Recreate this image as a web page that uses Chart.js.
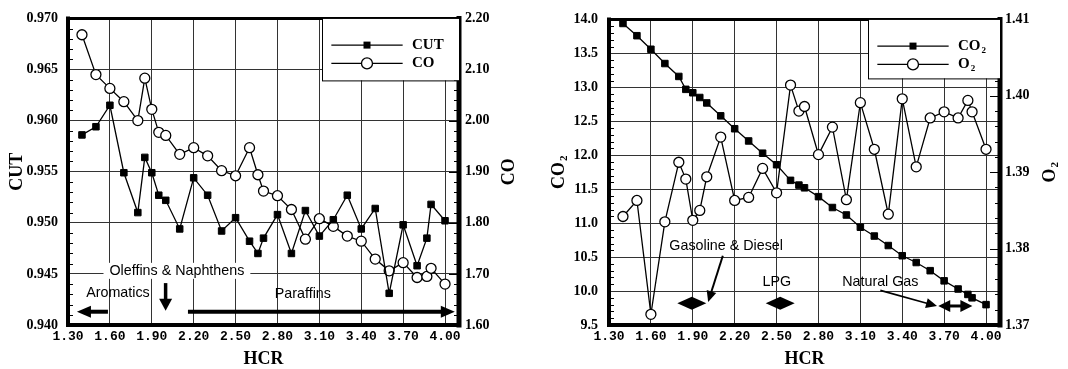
<!DOCTYPE html>
<html><head><meta charset="utf-8">
<script src="https://cdn.jsdelivr.net/npm/chart.js@4.4.1/dist/chart.umd.min.js"></script>
<style>
html,body{margin:0;padding:0;background:#fff;width:1068px;height:369px;overflow:hidden}
.wrap{position:absolute;top:0;width:534px;height:369px}
#w1{left:0}#w2{left:534px}
</style></head><body>
<div class="wrap" id="w1"><canvas id="c1"></canvas></div>
<div class="wrap" id="w2"><canvas id="c2"></canvas></div>
<script>
// ---- data ----
const hcr = [1.40,1.50,1.60,1.70,1.80,1.85,1.90,1.95,2.00,2.10,2.20,2.30,2.40,2.50,2.60,2.66,2.70,2.80,2.90,3.00,3.10,3.20,3.30,3.40,3.50,3.60,3.70,3.80,3.87,3.90,4.00];
const cut = [0.9586,0.9594,0.9615,0.9549,0.9510,0.9564,0.9549,0.9527,0.9522,0.9494,0.9544,0.9527,0.9492,0.9505,0.9482,0.9470,0.9485,0.9508,0.9470,0.9512,0.9487,0.9503,0.9527,0.9494,0.9514,0.9431,0.9498,0.9458,0.9485,0.9518,0.9502];
const co = [2.168,2.090,2.063,2.037,2.000,2.083,2.022,1.977,1.971,1.934,1.947,1.931,1.902,1.892,1.947,1.894,1.862,1.853,1.826,1.768,1.808,1.793,1.774,1.764,1.729,1.706,1.722,1.693,1.695,1.711,1.680];
const co2 = [13.94,13.76,13.56,13.35,13.16,12.97,12.92,12.85,12.77,12.58,12.39,12.21,12.03,11.86,11.63,11.56,11.52,11.39,11.23,11.12,10.94,10.81,10.67,10.52,10.42,10.30,10.15,10.03,9.95,9.90,9.80];
const o2 = [1.3842,1.3863,1.3714,1.3835,1.3913,1.3891,1.3837,1.3850,1.3894,1.3946,1.3863,1.3867,1.3905,1.3873,1.4014,1.3980,1.3986,1.3923,1.3959,1.3864,1.3991,1.3930,1.3845,1.3996,1.3907,1.3971,1.3979,1.3971,1.3994,1.3979,1.3930];
const hcrTicks = [1.30,1.60,1.90,2.20,2.50,2.80,3.10,3.40,3.70,4.00];
const cutTicks = [0.940,0.945,0.950,0.955,0.960,0.965,0.970];
const coTicks = [1.60,1.70,1.80,1.90,2.00,2.10,2.20];
const co2Ticks = [9.5,10.0,10.5,11.0,11.5,12.0,12.5,13.0,13.5,14.0];
const o2Ticks = [1.37,1.38,1.39,1.40,1.41];

const SERIF = "'Liberation Serif','Times New Roman',serif";
const SANS = "'Liberation Sans',Arial,sans-serif";
const MONO = "'Liberation Mono','Courier New',monospace";

function subText(ctx, text, x, y, size, weight) {
  const parts = text.split('\u2082');
  ctx.font = weight + ' ' + size + 'px ' + SERIF;
  const w1 = ctx.measureText(parts[0]).width;
  let w2 = 0; const ss = Math.round(size * 0.6);
  if (parts.length > 1) { ctx.font = weight + ' ' + ss + 'px ' + SERIF; w2 = ctx.measureText('2').width + 1; }
  return {w: w1 + w2, draw(left) {
    ctx.textBaseline = 'middle'; ctx.textAlign = 'left'; ctx.fillStyle = '#000';
    ctx.font = weight + ' ' + size + 'px ' + SERIF; ctx.fillText(parts[0], left, y);
    if (parts.length > 1) { ctx.font = weight + ' ' + ss + 'px ' + SERIF; ctx.fillText('2', left + w1 + 1, y + size * 0.28); }
  }};
}
function head(ctx, x, y, a, hl, hw) {
  const c = Math.cos(a), s = Math.sin(a);
  ctx.beginPath(); ctx.moveTo(x, y);
  ctx.lineTo(x - c*hl - s*hw, y - s*hl + c*hw);
  ctx.lineTo(x - c*hl + s*hw, y - s*hl - c*hw);
  ctx.closePath(); ctx.fill();
}
function minor(ctx, s, ticks, edge, dir, len) {
  ctx.beginPath();
  for (let i = 0; i < ticks.length - 1; i++) {
    for (let k = 1; k < 5; k++) {
      const v = ticks[i] + (ticks[i+1] - ticks[i]) * k / 5;
      const y = Math.round(s.getPixelForValue(v)) + 0.5;
      ctx.moveTo(edge, y); ctx.lineTo(edge + dir*len, y);
    }
  }
  ctx.stroke();
}

const decor = {
  id: 'decor',
  afterDraw(chart, args, o) {
    const ctx = chart.ctx, ca = chart.chartArea;
    const xs = chart.scales.x, yl = chart.scales.yL, yr = chart.scales.yR;
    ctx.save();
    ctx.strokeStyle = '#000'; ctx.fillStyle = '#000';
    // annotations
    const X = v => xs.getPixelForValue(v), Y = v => yl.getPixelForValue(v);
    (o.annos || []).forEach(a => {
      if (a.type === 'text') {
        ctx.font = '14.3px ' + SANS; ctx.textAlign = 'center'; ctx.textBaseline = 'middle';
        const px = X(a.x), py = Y(a.y);
        if (a.bg) { const w = ctx.measureText(a.text).width; ctx.fillStyle = '#fff'; ctx.fillRect(px - w/2 - a.bg, py - 8, w + 2*a.bg, 16); }
        ctx.fillStyle = '#000'; ctx.fillText(a.text, px, py);
      } else if (a.type === 'arrow') {
        const x1 = X(a.x1), y1 = Y(a.y1), x2 = X(a.x2), y2 = Y(a.y2);
        const ang = Math.atan2(y2 - y1, x2 - x1), c = Math.cos(ang), s = Math.sin(ang);
        ctx.lineWidth = a.lw;
        const sx = a.both ? x1 + c*a.hl*0.8 : x1, sy = a.both ? y1 + s*a.hl*0.8 : y1;
        ctx.beginPath(); ctx.moveTo(sx, sy); ctx.lineTo(x2 - c*a.hl*0.8, y2 - s*a.hl*0.8); ctx.stroke();
        head(ctx, x2, y2, ang, a.hl, a.hw);
        if (a.both) head(ctx, x1, y1, ang + Math.PI, a.hl, a.hw);
      } else if (a.type === 'diamond') {
        const px = X(a.x), py = Y(a.y);
        ctx.beginPath(); ctx.moveTo(px - a.hw, py); ctx.lineTo(px, py - a.hh); ctx.lineTo(px + a.hw, py); ctx.lineTo(px, py + a.hh); ctx.closePath(); ctx.fill();
      }
    });
    // minor ticks
    ctx.lineWidth = 1;
    minor(ctx, yl, o.lTicks, ca.left, 1, 5);
    minor(ctx, yr, o.rTicks, ca.right, -1, 5);
    ctx.beginPath();
    o.rTicks.forEach(v => { const y = Math.round(yr.getPixelForValue(v)) + 0.5; ctx.moveTo(ca.right, y); ctx.lineTo(ca.right - 10, y); });
    ctx.stroke();
    // frame
    ctx.lineCap = 'square';
    ctx.lineWidth = 3; ctx.beginPath(); ctx.moveTo(ca.left, ca.top); ctx.lineTo(ca.right, ca.top); ctx.stroke();
    ctx.lineWidth = 4; ctx.beginPath(); ctx.moveTo(ca.left, ca.top); ctx.lineTo(ca.left, ca.bottom); ctx.lineTo(ca.right, ca.bottom); ctx.stroke();
    ctx.lineWidth = 5; ctx.beginPath(); ctx.moveTo(ca.right, ca.top); ctx.lineTo(ca.right, ca.bottom); ctx.stroke();
    // legend
    const L = o.legend, bl = ca.right - L.w, bt = ca.top, bb = ca.top + L.h;
    ctx.fillStyle = '#fff'; ctx.fillRect(bl, bt, ca.right - bl, bb - bt);
    ctx.lineWidth = 1; ctx.strokeStyle = '#000';
    ctx.strokeRect(Math.round(bl) + 0.5, bt, ca.right - bl, Math.round(bb - bt) + 0.5);
    chart.data.datasets.forEach((ds, i) => {
      const y = bt + L.rows[i];
      ctx.lineWidth = 1.3; ctx.beginPath(); ctx.moveTo(bl + 10, y); ctx.lineTo(bl + 80, y); ctx.stroke();
      const mx = bl + 45;
      if (ds.pointStyle === 'rect') { ctx.fillStyle = '#000'; ctx.fillRect(mx - 3.5, y - 3.5, 7, 7); }
      else { ctx.fillStyle = '#fff'; ctx.beginPath(); ctx.arc(mx, y, 5.5, 0, Math.PI*2); ctx.fill(); ctx.stroke(); }
      const t = subText(ctx, ds.label, 0, y, 15, 'bold'); t.draw(bl + 90);
    });
    // axis titles
    (o.titles || []).forEach(tt => {
      const cx = tt.x === 'mid' ? (ca.left + ca.right)/2 : tt.x;
      const cy = tt.y === 'mid' ? (ca.top + ca.bottom)/2 : tt.y;
      ctx.save(); ctx.translate(cx, cy); if (tt.rot) ctx.rotate(-Math.PI/2);
      const t = subText(ctx, tt.text, 0, 0, 18, 'bold'); t.draw(-t.w/2);
      ctx.restore();
    });
    ctx.restore();
  }
};

function build(id, d1, d2, lT, rT, lFmt, rFmt, lW, rW, lPad, rPad, decorOpts) {
  const tf = {family: SERIF, size: 14, weight: 'bold'};
  const grid = {color: '#333', lineWidth: 1, drawTicks: false};
  return new Chart(document.getElementById(id), {
    type: 'scatter',
    data: {datasets: [d1, d2]},
    options: {
      responsive: true, maintainAspectRatio: false, animation: false, events: [],
      layout: {padding: {top: 15, left: 0, right: 0, bottom: 0}, autoPadding: false},
      plugins: {legend: {display: false}, tooltip: {enabled: false}, decor: decorOpts},
      scales: {
        x: {type: 'linear', min: 1.3, max: 4.1,
          afterBuildTicks: s => { s.ticks = hcrTicks.map(v => ({value: v})); },
          afterFit: s => { s.height = 44; },
          ticks: {callback: v => v.toFixed(2), font: {family: MONO, size: 13, weight: 'bold'}, color: '#000', padding: 4, maxRotation: 0, autoSkip: false},
          grid: grid, border: {display: false}},
        yL: {type: 'linear', position: 'left', min: lT[0], max: lT[lT.length-1],
          afterBuildTicks: s => { s.ticks = lT.map(v => ({value: v})); },
          afterFit: s => { s.width = lW; },
          ticks: {callback: lFmt, font: tf, color: '#000', padding: lPad},
          grid: grid, border: {display: false}},
        yR: {type: 'linear', position: 'right', min: rT[0], max: rT[rT.length-1],
          afterBuildTicks: s => { s.ticks = rT.map(v => ({value: v})); },
          afterFit: s => { s.width = rW; },
          ticks: {callback: rFmt, font: tf, color: '#000', padding: rPad},
          grid: {drawOnChartArea: false, drawTicks: false}, border: {display: false}}
      }
    },
    plugins: [decor]
  });
}
function sq(label, vals, axis) {
  return {label, data: hcr.map((x, i) => ({x, y: vals[i]})), yAxisID: axis, showLine: true,
    borderColor: '#000', borderWidth: 1.3, pointStyle: 'rect', pointRadius: 4.6,
    pointBackgroundColor: '#000', pointBorderColor: '#000', pointBorderWidth: 1};
}
function ci(label, vals, axis) {
  return {label, data: hcr.map((x, i) => ({x, y: vals[i]})), yAxisID: axis, showLine: true,
    borderColor: '#000', borderWidth: 1.3, pointStyle: 'circle', pointRadius: 5,
    pointBackgroundColor: '#fff', pointBorderColor: '#000', pointBorderWidth: 1.3};
}

build('c1', sq('CUT', cut, 'yL'), ci('CO', co, 'yR'), cutTicks, coTicks,
  v => v.toFixed(3), v => v.toFixed(2), 68, 75, 10, 6, {
    lTicks: cutTicks, rTicks: coTicks,
    legend: {w: 137, h: 62, rows: [26.7, 45]},
    titles: [{text: 'CUT', x: 17.5, y: 'mid', rot: true}, {text: 'CO', x: 509.5, y: 'mid', rot: true}, {text: 'HCR', x: 'mid', y: 359}],
    annos: [
      {type: 'text', text: 'Oleffins & Naphthens', x: 2.08, y: 0.9453, bg: 6},
      {type: 'text', text: 'Aromatics', x: 1.658, y: 0.9431},
      {type: 'text', text: 'Paraffins', x: 2.982, y: 0.9430},
      {type: 'arrow', x1: 1.586, y1: 0.9413, x2: 1.364, y2: 0.9413, lw: 4, hl: 14, hw: 6},
      {type: 'arrow', x1: 1.999, y1: 0.9441, x2: 1.999, y2: 0.9414, lw: 3.5, hl: 12, hw: 6.5},
      {type: 'arrow', x1: 2.159, y1: 0.9413, x2: 4.07, y2: 0.9413, lw: 4, hl: 14, hw: 6}
    ]
  });
build('c2', sq('CO\u2082', co2, 'yL'), ci('O\u2082', o2, 'yR'), co2Ticks, o2Ticks,
  v => v.toFixed(1), v => v.toFixed(2), 75, 68, 11, 5, {
    lTicks: co2Ticks, rTicks: o2Ticks,
    legend: {w: 132, h: 59, rows: [26.7, 45]},
    titles: [{text: 'CO\u2082', x: 25, y: 'mid', rot: true}, {text: 'O\u2082', x: 516, y: 'mid', rot: true}, {text: 'HCR', x: 'mid', y: 359}],
    annos: [
      {type: 'text', text: 'Gasoline & Diesel', x: 2.139, y: 10.66},
      {type: 'text', text: 'LPG', x: 2.502, y: 10.13},
      {type: 'text', text: 'Natural Gas', x: 3.243, y: 10.13},
      {type: 'arrow', x1: 2.115, y1: 10.52, x2: 2.010, y2: 9.84, lw: 2, hl: 11, hw: 5},
      {type: 'arrow', x1: 3.243, y1: 10.01, x2: 3.649, y2: 9.78, lw: 1.6, hl: 11, hw: 5},
      {type: 'arrow', x1: 3.658, y1: 9.78, x2: 3.902, y2: 9.78, lw: 3, hl: 12, hw: 6, both: true},
      {type: 'diamond', x: 1.893, y: 9.82, hw: 14.5, hh: 6.5},
      {type: 'diamond', x: 2.526, y: 9.82, hw: 14.5, hh: 6.5}
    ]
  });
</script>
</body></html>
